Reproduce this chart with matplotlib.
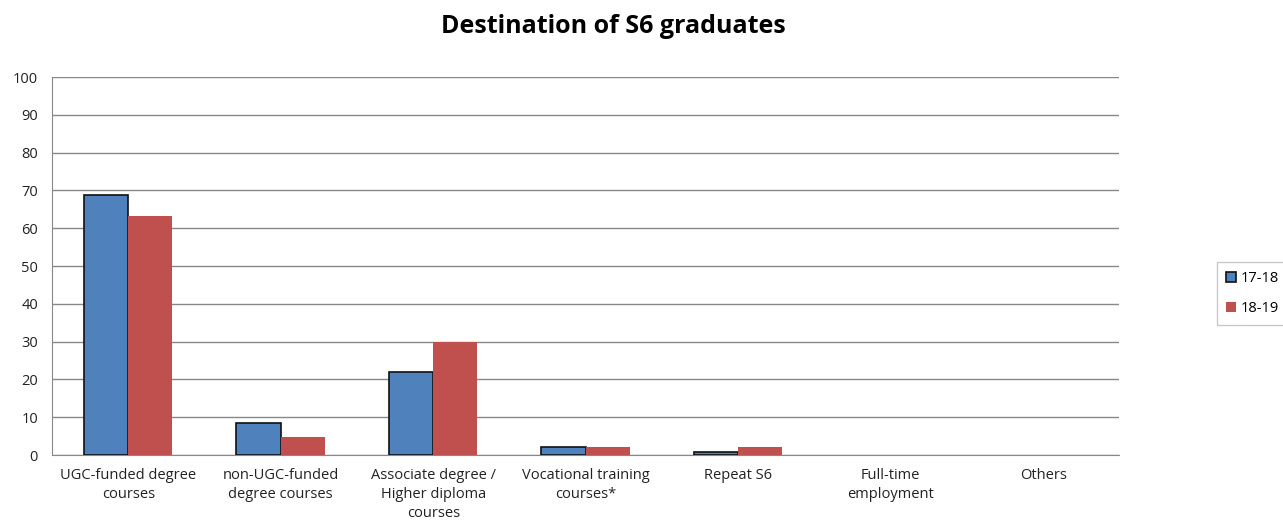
import numpy as np
import matplotlib.pyplot as plt

categories = ['UGC-funded degree\ncourses', 'non-UGC-funded\ndegree courses',
              'Associate degree /\nHigher diploma\ncourses', 'Vocational training\ncourses*',
              'Repeat S6', 'Full-time\nemployment', 'Others']
vals_1718 = [68.8, 8.6, 22.0, 2.2, 0.9, 0, 0]
vals_1819 = [63.2, 4.8, 30.0, 2.2, 2.2, 0, 0]
labels = ['17-18', '18-19']

plt.rcParams['font.family'] = ['Open Sans', 'DejaVu Sans']

fig = plt.figure(figsize=(12.83, 5.25), dpi=100)
ax = fig.add_axes([0.0405, 0.1333, 0.832, 0.72])

x = np.arange(len(categories))
w = 0.29
# no outline on empty bars
edges = ['#111111' if v > 0 else 'none' for v in vals_1718]
ax.bar(x - w/2, vals_1718, w, color='#4f81bd', edgecolor=edges, linewidth=1.2,
       label=labels[0], zorder=3)
ax.bar(x + w/2, vals_1819, w, color='#c0504d', edgecolor='none', label=labels[1], zorder=3)

ax.set_xlim(-0.5, len(categories) - 0.5)
ax.set_ylim(0, 100)
ax.set_yticks(range(0, 101, 10))
ax.set_xticks(x)
ax.set_xticklabels(categories, fontsize=10.5, color='#222222', linespacing=1.4)
ax.tick_params(axis='y', labelsize=10.5, labelcolor='#222222', length=0, pad=10)
ax.tick_params(axis='x', length=0, pad=9)
ax.grid(axis='y', color='#888888', linewidth=1, zorder=0)
for s in ['top', 'right']:
    ax.spines[s].set_visible(False)
ax.spines['left'].set_color('#888888')
ax.spines['bottom'].set_color('#888888')

fig.suptitle('Destination of S6 graduates', fontsize=18, fontweight='bold',
             x=0.478, y=0.949, va='center')

leg = fig.legend(loc='upper left', bbox_to_anchor=(0.9486, 0.501), fontsize=10.5,
                 frameon=True, fancybox=False, edgecolor='#bbbbbb',
                 handlelength=0.7, handleheight=0.7, handletextpad=0.35, borderpad=0.6,
                 labelspacing=1.05, borderaxespad=0)
leg.get_frame().set_linewidth(1)

fig.savefig('out.png', dpi=100)
